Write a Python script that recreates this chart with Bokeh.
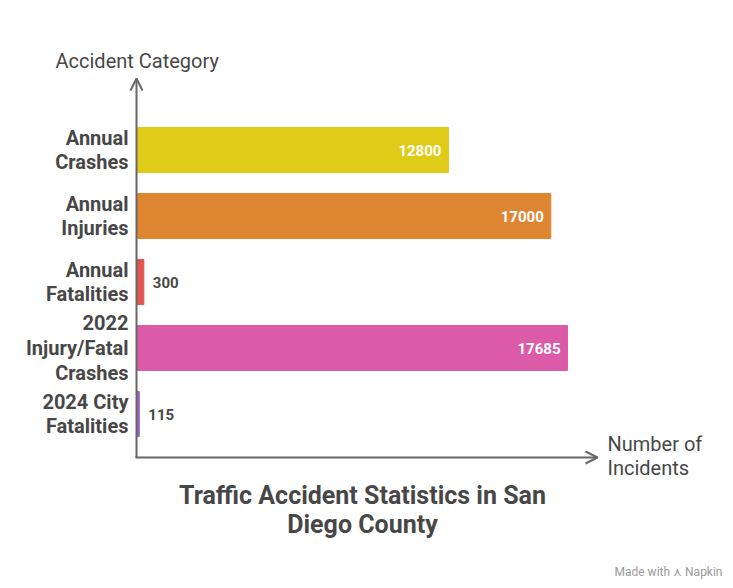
from bokeh.plotting import figure
from bokeh.models import Range1d, ColumnDataSource, Arrow, OpenHead
from bokeh.core.properties import value
from bokeh.embed import file_html
from bokeh.resources import INLINE

# Data
categories = ["Annual\nCrashes", "Annual\nInjuries", "Annual\nFatalities",
              "2022\nInjury/Fatal\nCrashes", "2024 City\nFatalities"]
counts = [12800, 17000, 300, 17685, 115]
bar_colors = ["#E0CB18", "#DE8531", "#E0534F", "#DC5BA8", "#9E62C4"]

W, H = 733, 588
X0_PX = 136          # pixel position of zero on the value axis
PX_PER_UNIT = 0.02437
ROW0_PX = 149.5      # centre of the first row
ROW_PX = 66.0        # row spacing

def xd(px):
    return (px - X0_PX) / PX_PER_UNIT

def yd(px):
    return (px - ROW0_PX) / ROW_PX

p = figure(width=W, height=H, output_backend="svg", toolbar_location=None,
           min_border=0, min_border_left=0, min_border_right=0,
           min_border_top=0, min_border_bottom=0,
           x_range=Range1d(xd(0), xd(W)), y_range=Range1d(yd(H), yd(0)))
p.axis.visible = False
p.grid.visible = False
p.outline_line_color = None
p.background_fill_color = "white"
p.border_fill_color = "white"

rows = list(range(len(categories)))
src = ColumnDataSource(dict(y=rows, v=counts, c=bar_colors, cat=categories))
p.hbar(y="y", left=0, right="v", height=45 / ROW_PX, color="c", source=src)

TXT = "#474747"
FONT = value("Roboto")

# category labels
p.text(x=0, y="y", text="cat", source=src, x_offset=-8, text_align="right",
       text_baseline="middle", text_font=FONT, text_font_style="bold",
       text_font_size="20px", text_color=TXT, text_line_height=1.03)

# value labels: inside long bars, beside short ones
inside = [i for i, v in enumerate(counts) if v > 2000]
outside = [i for i, v in enumerate(counts) if v <= 2000]
src_in = ColumnDataSource(dict(y=[rows[i] for i in inside], v=[counts[i] for i in inside],
                               lbl=[str(counts[i]) for i in inside]))
src_out = ColumnDataSource(dict(y=[rows[i] for i in outside], v=[counts[i] for i in outside],
                                lbl=[str(counts[i]) for i in outside]))
p.text(x="v", y="y", text="lbl", source=src_in, x_offset=-7, text_align="right",
       text_baseline="middle", text_font=FONT, text_font_style="bold",
       text_font_size="15px", text_color="white")
p.text(x="v", y="y", text="lbl", source=src_out, x_offset=9, text_align="left",
       text_baseline="middle", text_font=FONT, text_font_style="bold",
       text_font_size="15px", text_color=TXT)

# axes with arrow heads
AX = "#666666"
p.add_layout(Arrow(x_start=0, y_start=yd(457), x_end=0, y_end=yd(78),
                   line_color=AX, line_width=2,
                   end=OpenHead(size=12, line_color=AX, line_width=2)))
p.add_layout(Arrow(x_start=xd(135), y_start=yd(457), x_end=xd(597), y_end=yd(457),
                   line_color=AX, line_width=2,
                   end=OpenHead(size=12, line_color=AX, line_width=2)))

# axis titles
p.text(x=[xd(55)], y=[yd(60)], text=["Accident Category"], text_align="left",
       text_baseline="middle", text_font=FONT, text_font_size="20px", text_color=TXT)
p.text(x=[xd(607)], y=[yd(455.5)], text=["Number of\nIncidents"], text_align="left",
       text_baseline="middle", text_font=FONT, text_font_size="20px", text_color=TXT,
       text_line_height=0.99)

# chart title
p.text(x=[xd(362)], y=[yd(509.5)], text=["Traffic Accident Statistics in San\nDiego County"],
       text_align="center", text_baseline="middle", text_font=FONT,
       text_font_style="bold", text_font_size="25px", text_color=TXT,
       text_line_height=1.0)

# credit
p.text(x=[xd(722)], y=[yd(571)], text=["Made with \u22CF Napkin"], text_align="right",
       text_baseline="middle", text_font=FONT, text_font_size="12px", text_color="#9a9a9a")

open("out.html", "w").write(file_html(p, INLINE))
